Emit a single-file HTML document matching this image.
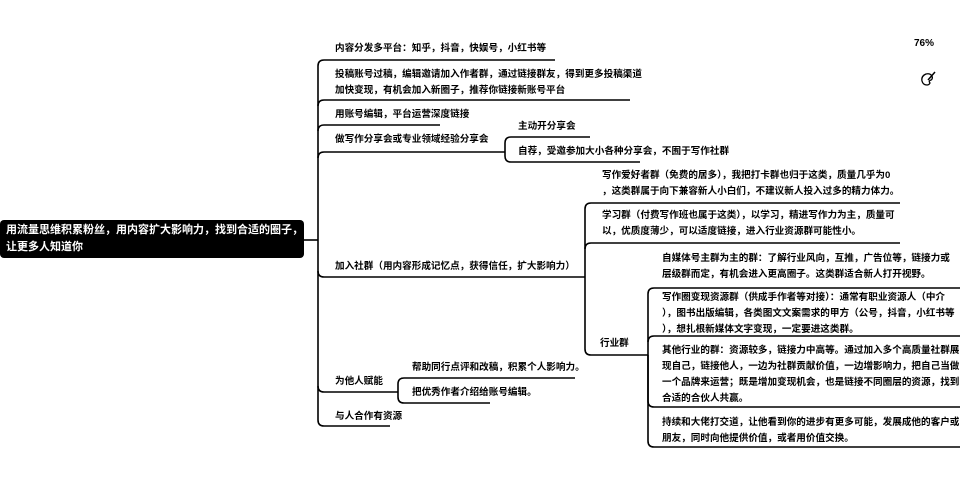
<!DOCTYPE html>
<html><head><meta charset="utf-8">
<style>
html,body{margin:0;padding:0;background:#fff;}
body{width:966px;height:480px;position:relative;overflow:hidden;font-family:"Liberation Sans","Noto Sans CJK SC",sans-serif;color:#000;}
.t{position:absolute;font-size:9.6px;line-height:16px;white-space:nowrap;font-weight:bold;letter-spacing:0;}
svg{position:absolute;left:0;top:0;}
#root{position:absolute;left:0;top:220px;width:304px;height:38px;background:#000;border-radius:4px;color:#fff;font-size:11px;font-weight:bold;line-height:17px;padding:2px 0 0 6px;box-sizing:border-box;white-space:nowrap;}
</style></head><body>
<svg width="966" height="480" fill="none" stroke="#000" stroke-width="1.6">
<path d="M304,240 L318,240"/>
<path d="M318,66 L318,420"/>
<path d="M318,66 Q318,60 324,60 L555,60"/>
<path d="M318,106 Q318,100 324,100 L630,100"/>
<path d="M318,131 Q318,125 324,125 L440,125"/>
<path d="M318,158 Q318,152 324,152 L505,152"/>
<path d="M318,271 Q318,277 324,277 L585,277"/>
<path d="M318,386 Q318,392 324,392 L398,392"/>
<path d="M318,420 Q318,426 324,426 L390,426"/>
<path d="M505,152 L505,143 Q505,137 511,137 L590,137"/>
<path d="M505,152 L505,156 Q505,162 511,162 L640,162"/>
<path d="M585,277 L585,209 Q585,203 591,203 L900,203"/>
<path d="M585,249 Q585,243 591,243 L900,243"/>
<path d="M585,277 L585,349 Q585,355 591,355 L648,355"/>
<path d="M648,355 L648,294 Q648,288 654,288 L960,288"/>
<path d="M648,342 Q648,336 654,336 L960,336"/>
<path d="M648,355 L648,401 Q648,407 654,407 L960,407"/>
<path d="M648,355 L648,441 Q648,447 654,447 L960,447"/>
<path d="M398,392 L398,384 Q398,378 404,378 L575,378"/>
<path d="M398,392 L398,397 Q398,403 404,403 L490,403"/>
<path d="M926,74 q-5,2 -4,7 q1,4 5,4 q2,0 3,-2 q-2,-2 1,-3 q2,-1 1,-4 q-2,-3 -6,-2z" stroke-width="1.3"/>
<path d="M928,80 L935,72" stroke-width="1.5"/>
</svg>

<div id="root">用流量思维积累粉丝，用内容扩大影响力，找到合适的圈子，<br>让更多人知道你</div>

<div class="t" style="left:335px;top:41px;">内容分发多平台：知乎，抖音，快娱号，小红书等</div>
<div class="t" style="left:335px;top:67px;">投稿账号过稿，编辑邀请加入作者群，通过链接群友，得到更多投稿渠道<br>加快变现，有机会加入新圈子，推荐你链接新账号平台</div>
<div class="t" style="left:335px;top:107px;">用账号编辑，平台运营深度链接</div>
<div class="t" style="left:335px;top:132px;">做写作分享会或专业领域经验分享会</div>
<div class="t" style="left:518px;top:119px;">主动开分享会</div>
<div class="t" style="left:518px;top:144px;">自荐，受邀参加大小各种分享会，不囿于写作社群</div>

<div class="t" style="left:335px;top:259px;">加入社群（用内容形成记忆点，获得信任，扩大影响力）</div>
<div class="t" style="left:602px;top:168px;">写作爱好者群（免费的居多），我把打卡群也归于这类，质量几乎为0<br>，这类群属于向下兼容新人小白们，不建议新人投入过多的精力体力。</div>
<div class="t" style="left:602px;top:208px;">学习群（付费写作班也属于这类），以学习，精进写作力为主，质量可<br>以，优质度薄少，可以适度链接，进入行业资源群可能性小。</div>
<div class="t" style="left:600px;top:336px;">行业群</div>
<div class="t" style="left:662px;top:251px;">自媒体号主群为主的群：了解行业风向，互推，广告位等，链接力或<br>层级群而定，有机会进入更高圈子。这类群适合新人打开视野。</div>
<div class="t" style="left:662px;top:290px;">写作圈变现资源群（供成手作者等对接）：通常有职业资源人（中介<br>），图书出版编辑，各类图文文案需求的甲方（公号，抖音，小红书等<br>），想扎根新媒体文字变现，一定要进这类群。</div>
<div class="t" style="left:662px;top:343px;">其他行业的群：资源较多，链接力中高等。通过加入多个高质量社群展<br>现自己，链接他人，一边为社群贡献价值，一边增影响力，把自己当做<br>一个品牌来运营；既是增加变现机会，也是链接不同圈层的资源，找到<br>合适的合伙人共赢。</div>
<div class="t" style="left:662px;top:415px;">持续和大佬打交道，让他看到你的进步有更多可能，发展成他的客户或<br>朋友，同时向他提供价值，或者用价值交换。</div>

<div class="t" style="left:335px;top:374px;">为他人赋能</div>
<div class="t" style="left:412px;top:360px;">帮助同行点评和改稿，积累个人影响力。</div>
<div class="t" style="left:412px;top:385px;">把优秀作者介绍给账号编辑。</div>
<div class="t" style="left:335px;top:409px;">与人合作有资源</div>

<div class="t" style="left:914px;top:36px;font-size:10px;">76%</div>
</body></html>
